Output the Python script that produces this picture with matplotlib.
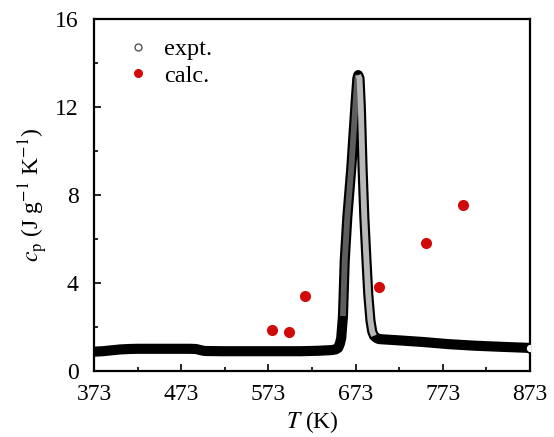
import matplotlib
matplotlib.use("Agg")
import matplotlib.pyplot as plt
import numpy as np

plt.rcParams['font.family'] = ['Liberation Serif', 'DejaVu Serif']
plt.rcParams['mathtext.fontset'] = 'stix'

T_expt = [373, 383, 393, 403, 413, 423, 443, 463, 483, 490, 495, 500, 520, 550,
          580, 610, 630, 645, 650, 653, 655, 656.5, 658.5, 660.5, 663.5, 668,
          671, 673.5, 675, 676, 677.5, 679, 681, 683, 685.5, 687.5, 690, 692,
          694, 697, 700, 720, 750, 780, 810, 840, 873]
cp_expt = [0.88, 0.90, 0.94, 0.98, 1.00, 1.01, 1.01, 1.01, 1.01, 1.00, 0.95, 0.91,
           0.90, 0.90, 0.90, 0.90, 0.92, 0.95, 0.98, 1.05, 1.25, 1.5, 2.5, 5.0,
           7.0, 9.2, 11.0, 12.5, 13.3, 13.45, 13.3, 12.0, 9.2, 7.0, 5.0, 3.5,
           2.3, 1.8, 1.6, 1.5, 1.45, 1.4, 1.32, 1.22, 1.15, 1.1, 1.05]

# calculated cp
T_calc = [577, 597, 615, 700, 754, 796]
cp_calc = [1.86, 1.79, 3.4, 3.82, 5.8, 7.55]

x_ticks = [373, 473, 573, 673, 773, 873]
y_ticks = [0, 4, 8, 12, 16]

fig = plt.figure(figsize=(5.54, 4.37), dpi=100)
ax = fig.add_axes([0.1697, 0.151, 0.787, 0.8055])

T = np.array(T_expt)
cp = np.array(cp_expt)

# dense open circles show up as a thick black band
ax.plot(T, cp, '-', color='black', lw=7.3, solid_joinstyle='round',
        solid_capstyle='butt', zorder=2)
peak = cp > 1.55
left = peak & (T <= 676)
right = peak & (T >= 676)
ax.plot(T[left], cp[left], '-', color='#5e5e5e', lw=4.2,
        solid_capstyle='butt', zorder=3)
ax.plot(T[right], cp[right], '-', color='#b8b8b8', lw=4.2,
        solid_capstyle='butt', zorder=3)
ax.plot(T[-1], cp[-1], 'o', mfc='white', mec='black', ms=6.5, mew=1.2, zorder=4)

ax.plot(T_calc, cp_calc, 'o', color='#d10a0a', ms=8, mew=0, zorder=5)

# legend handles
h1, = ax.plot([], [], 'o', mfc='white', mec='#555555', ms=5, mew=1)
h2, = ax.plot([], [], 'o', color='#d10a0a', ms=6.5, mew=0)
ax.legend([h1, h2], ['expt.', 'calc.'], loc='upper left',
          bbox_to_anchor=(0.022, 1.008), frameon=False, fontsize=17.5,
          handlelength=1.0, handletextpad=0.6, labelspacing=0.2)

ax.set_xlim(373, 873)
ax.set_ylim(0, 16)
ax.set_xticks(x_ticks)
ax.set_yticks(y_ticks)
ax.set_xticks(np.arange(423, 873, 100), minor=True)
ax.set_yticks([2, 6, 10, 14], minor=True)
ax.tick_params(which='both', direction='in', top=False, right=False,
               labelsize=17, width=1.2)
ax.tick_params(axis='x', which='major', pad=9)
ax.tick_params(axis='y', which='major', pad=11)
ax.tick_params(which='major', length=5)
ax.tick_params(which='minor', length=3)
for s in ax.spines.values():
    s.set_linewidth(1.6)

ax.set_xlabel('$T$ (K)', fontsize=17, labelpad=3)
ax.set_ylabel('$c_\\mathrm{p}$ (J g$^{-1}$ K$^{-1}$)', fontsize=17, labelpad=4)

fig.savefig('out.png', dpi=100)
